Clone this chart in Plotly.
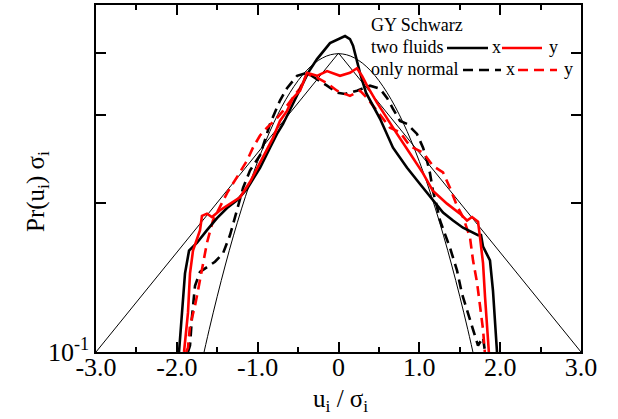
import plotly.graph_objects as go

# ---------------- data ----------------
# two fluids, x component (black solid)
tf_x_u = [-1.973, -1.936, -1.899, -1.849, -1.750, -1.627, -1.503, -1.379, -1.256, -1.132,
          -1.095, -0.971, -0.847, -0.761, -0.686, -0.625, -0.563, -0.476, -0.377, -0.266,
          -0.105, 0.081, 0.142, 0.180, 0.266, 0.340, 0.514, 0.674, 0.848, 1.008,
          1.169, 1.293, 1.417, 1.540, 1.726, 1.763, 1.788, 1.874, 1.911, 1.936, 1.961]
tf_x_p = [0.100, 0.120, 0.144, 0.160, 0.166, 0.176, 0.186, 0.195, 0.202, 0.213,
          0.218, 0.235, 0.258, 0.275, 0.288, 0.302, 0.316, 0.340, 0.365, 0.389,
          0.419, 0.433, 0.427, 0.414, 0.365, 0.333, 0.295, 0.258, 0.235, 0.218,
          0.202, 0.191, 0.184, 0.178, 0.172, 0.172, 0.163, 0.153, 0.133, 0.116, 0.100]

# two fluids, y component (red solid)
tf_y_u = [-1.911, -1.862, -1.837, -1.800, -1.713, -1.689, -1.627, -1.565, -1.466, -1.342,
          -1.218, -1.095, -0.934, -0.810, -0.724, -0.637, -0.563, -0.476, -0.390, -0.266,
          -0.142, 0.019, 0.142, 0.229, 0.291, 0.353, 0.476, 0.600, 0.724, 0.885,
          1.046, 1.169, 1.342, 1.503, 1.590, 1.652, 1.726, 1.751, 1.788, 1.813, 1.860]
tf_y_p = [0.100, 0.120, 0.144, 0.160, 0.176, 0.188, 0.190, 0.187, 0.193, 0.199,
          0.205, 0.220, 0.246, 0.270, 0.292, 0.306, 0.325, 0.336, 0.365, 0.360,
          0.368, 0.360, 0.365, 0.373, 0.360, 0.344, 0.318, 0.295, 0.275, 0.251,
          0.229, 0.211, 0.199, 0.190, 0.184, 0.187, 0.183, 0.170, 0.151, 0.129, 0.100]

# only normal, x component (black dashed)
on_x_u = [-1.862, -1.837, -1.812, -1.775, -1.713, -1.627, -1.528, -1.429, -1.342, -1.256,
          -1.181, -1.095, -0.971, -0.847, -0.724, -0.637, -0.513, -0.390, -0.266, -0.142,
          -0.018, 0.081, 0.229, 0.390, 0.514, 0.600, 0.674, 0.761, 0.848, 0.971,
          1.046, 1.095, 1.132, 1.169, 1.219, 1.256, 1.380, 1.466, 1.528, 1.590,
          1.664, 1.726, 1.788, 1.813]
on_x_p = [0.100, 0.103, 0.118, 0.136, 0.145, 0.148, 0.152, 0.158, 0.172, 0.193,
          0.214, 0.232, 0.249, 0.288, 0.321, 0.340, 0.360, 0.365, 0.355, 0.344,
          0.333, 0.331, 0.336, 0.344, 0.339, 0.325, 0.309, 0.292, 0.288, 0.275,
          0.258, 0.243, 0.229, 0.211, 0.196, 0.184, 0.162, 0.146, 0.131, 0.121,
          0.111, 0.103, 0.107, 0.100]

# only normal, y component (red dashed)
on_y_u = [-1.886, -1.862, -1.837, -1.775, -1.738, -1.689, -1.627, -1.553, -1.466, -1.379,
          -1.256, -1.132, -1.058, -0.971, -0.884, -0.761, -0.686, -0.563, -0.476, -0.390,
          -0.266, -0.142, -0.018, 0.142, 0.266, 0.353, 0.476, 0.637, 0.761, 0.885,
          1.046, 1.169, 1.293, 1.380, 1.466, 1.540, 1.627, 1.664, 1.714, 1.751,
          1.788, 1.810]
on_y_p = [0.100, 0.102, 0.113, 0.124, 0.133, 0.148, 0.166, 0.184, 0.196, 0.209,
          0.225, 0.243, 0.258, 0.273, 0.283, 0.296, 0.306, 0.325, 0.340, 0.363,
          0.357, 0.348, 0.336, 0.328, 0.336, 0.325, 0.306, 0.283, 0.277, 0.260,
          0.252, 0.237, 0.230, 0.214, 0.197, 0.187, 0.170, 0.153, 0.138, 0.123,
          0.111, 0.100]

# Gaussian reference (unit variance)
gauss_u = [-1.7, -1.6, -1.5, -1.4, -1.3, -1.2, -1.1, -1.0, -0.9, -0.8, -0.7, -0.6,
           -0.5, -0.4, -0.3, -0.2, -0.1, 0.0, 0.1, 0.2, 0.3, 0.4, 0.5, 0.6, 0.7,
           0.8, 0.9, 1.0, 1.1, 1.2, 1.3, 1.4, 1.5, 1.6, 1.7]
gauss_p = [0.0940, 0.1109, 0.1295, 0.1497, 0.1714, 0.1942, 0.2179, 0.2420, 0.2661,
           0.2897, 0.3123, 0.3332, 0.3521, 0.3683, 0.3814, 0.3910, 0.3970, 0.3989,
           0.3970, 0.3910, 0.3814, 0.3683, 0.3521, 0.3332, 0.3123, 0.2897, 0.2661,
           0.2420, 0.2179, 0.1942, 0.1714, 0.1497, 0.1295, 0.1109, 0.0940]

# exponential reference
expo_u = [-3.0, 0.0, 3.0]
expo_p = [0.1, 0.4, 0.1]

x_tickvals = [-3, -2, -1, 0, 1, 2, 3]
x_ticktext = ["-3.0", "-2.0", "-1.0", "0", "1.0", "2.0", "3.0"]
y_tickvals = [0.1, 0.2, 0.3, 0.4]
y_ticktext = ["10<sup>-1</sup>", "", "", ""]

# ---------------- figure ----------------
FONT = '"Liberation Serif", "Times New Roman", "DejaVu Serif", serif'
W, H = 618, 419
ML, MR, MT, MB = 96, 37, 5, 67

fig = go.Figure()
thin = dict(color="black", width=1)
fig.add_trace(go.Scatter(x=expo_u, y=expo_p, mode="lines", line=thin))
fig.add_trace(go.Scatter(x=gauss_u, y=gauss_p, mode="lines", line=thin, line_shape="spline"))
fig.add_trace(go.Scatter(x=on_x_u, y=on_x_p, mode="lines",
                         line=dict(color="black", width=2.6, dash="10px,6px")))
fig.add_trace(go.Scatter(x=on_y_u, y=on_y_p, mode="lines",
                         line=dict(color="red", width=2.6, dash="10px,6px")))
fig.add_trace(go.Scatter(x=tf_x_u, y=tf_x_p, mode="lines",
                         line=dict(color="black", width=2.6)))
fig.add_trace(go.Scatter(x=tf_y_u, y=tf_y_p, mode="lines",
                         line=dict(color="red", width=2.6)))

pw = W - ML - MR
ph = H - MT - MB


def px2paper(px, py):
    return (px - ML) / pw, (H - MB - py) / ph


annotations = []
shapes = []


def add_text(txt, px, py, size=18, xanchor="left"):
    x, y = px2paper(px, py)
    annotations.append(dict(text=txt, x=x, y=y, xref="paper", yref="paper",
                            xanchor=xanchor, yanchor="middle", showarrow=False,
                            font=dict(family=FONT, size=size, color="black")))


def add_seg(px0, px1, py, color, dash="solid"):
    x0, y0 = px2paper(px0, py)
    x1, _ = px2paper(px1, py)
    shapes.append(dict(type="line", xref="paper", yref="paper", x0=x0, x1=x1, y0=y0, y1=y0,
                       line=dict(color=color, width=2.6, dash=dash)))


add_text("GY Schwarz", 369, 25)
add_text("two fluids", 369, 47)
add_text("only normal", 369, 69)
add_seg(447, 488, 48, "black")
add_text("x", 490, 47)
add_seg(502, 542, 48, "red")
add_text("y", 547, 47)
add_seg(463, 501, 70, "black", "10px,6px")
add_text("x", 504, 69)
add_seg(518, 557, 70, "red", "10px,6px")
add_text("y", 562, 69)

# axis titles
x, y = px2paper(340, 400)
annotations.append(dict(text="u<sub>i</sub> / σ<sub>i</sub>", x=x, y=y, xref="paper", yref="paper",
                        xanchor="center", yanchor="middle", showarrow=False,
                        font=dict(family=FONT, size=25, color="black")))
x, y = px2paper(37, 192)
annotations.append(dict(text="Pr(u<sub>i</sub>) σ<sub>i</sub>", x=x, y=y,
                        xref="paper", yref="paper", textangle=-90,
                        xanchor="center", yanchor="middle", showarrow=False,
                        font=dict(family=FONT, size=25, color="black")))

fig.update_layout(
    width=W, height=H,
    margin=dict(l=ML, r=MR, t=MT, b=MB, autoexpand=False),
    paper_bgcolor="white", plot_bgcolor="white",
    showlegend=False,
    font=dict(family=FONT, size=25, color="black"),
    annotations=annotations, shapes=shapes,
    xaxis=dict(range=[-3, 3], tickvals=x_tickvals, ticktext=x_ticktext, automargin=False,
               ticks="inside", ticklen=10, tickwidth=1.5, tickcolor="black",
               ticklabelstandoff=-9,
               minor=dict(dtick=0.5, tick0=0, ticks="inside", ticklen=5, tickwidth=1.5,
                          tickcolor="black", showgrid=False),
               showline=True, linecolor="black", linewidth=1.5, mirror="ticks",
               showgrid=False, zeroline=False,
               tickfont=dict(family=FONT, size=26, color="black")),
    yaxis=dict(type="log", range=[-1, -0.301], tickvals=y_tickvals, ticktext=y_ticktext,
               automargin=False,
               ticks="inside", ticklen=10, tickwidth=1.5, tickcolor="black",
               showline=True, linecolor="black", linewidth=1.5, mirror="ticks",
               showgrid=False, zeroline=False,
               tickfont=dict(family=FONT, size=26, color="black")),
)

fig.write_html("out.html", post_script="document.body.style.margin='0';",
               config={"displayModeBar": False})
